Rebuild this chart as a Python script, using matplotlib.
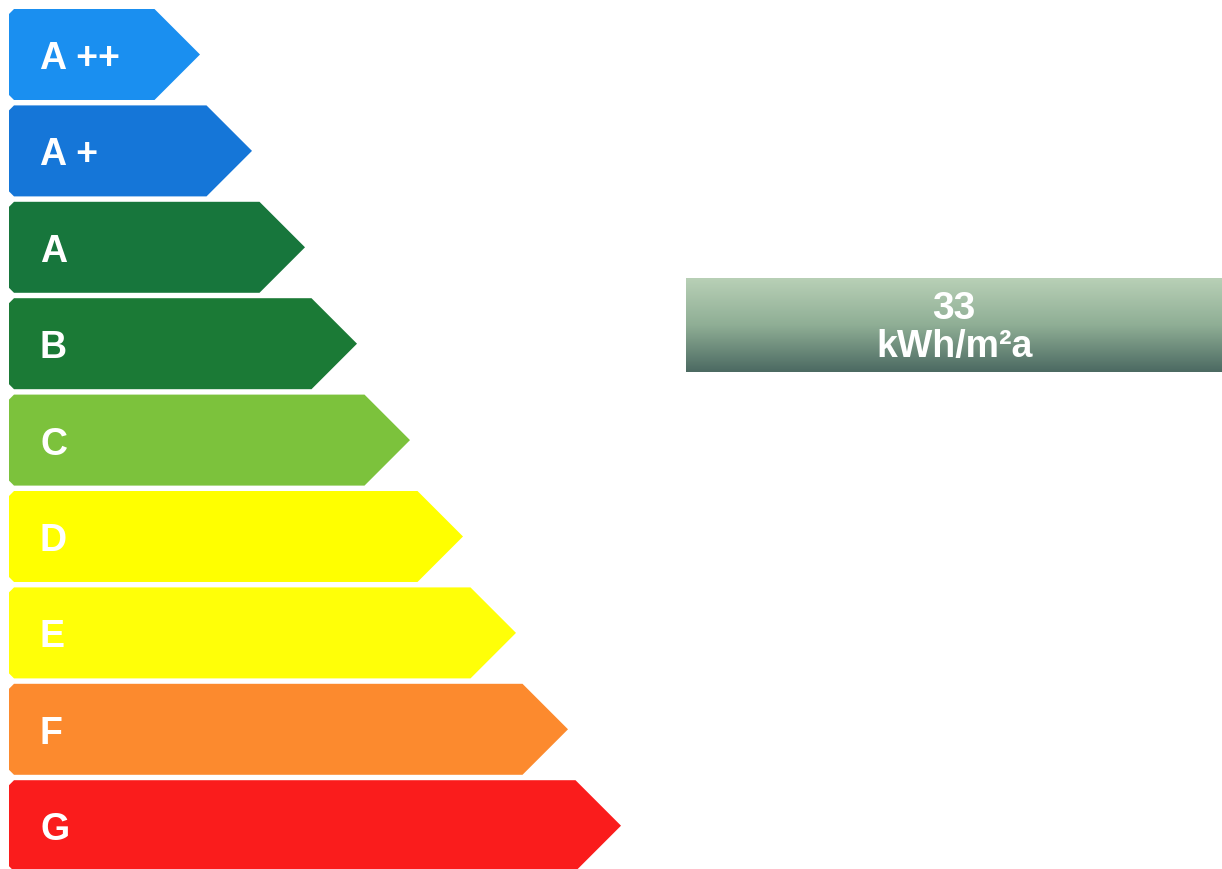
import numpy as np
import matplotlib.pyplot as plt
from matplotlib.patches import Polygon
from matplotlib.colors import LinearSegmentedColormap

plt.rcParams['font.family'] = ['Liberation Sans', 'DejaVu Sans']

# energy classes, from best to worst
classes = ['A ++', 'A +', 'A', 'B', 'C', 'D', 'E', 'F', 'G']
tip_x = [200, 252, 305, 357, 410, 463, 516, 568, 621]
colors = ['#1a8ff0', '#1576d8', '#17763c', '#1b7a36', '#7cc23c',
          '#ffff00', '#ffff08', '#fc8a2e', '#fa1c1c']
value = 33
unit = 'kWh/m²a'

fig = plt.figure(figsize=(12.22, 8.70), dpi=100)
ax = fig.add_axes([0, 0, 1, 1])
ax.set_xlim(0, 1222)
ax.set_ylim(870, 0)
ax.axis('off')

left = 9
height = 91
pitch = 96.4
top0 = 10
r = 5
for i, (lab, tip, col) in enumerate(zip(classes, tip_x, colors)):
    top = top0 + i*pitch
    bot = top + height
    mid = (top + bot)/2
    body = tip - height/2
    pts = [(left + r, top), (body, top), (tip, mid), (body, bot),
           (left + r, bot), (left, bot - r), (left, top + r)]
    ax.add_patch(Polygon(pts, closed=True, facecolor=col, edgecolor='none'))
    ax.text(left + 31, mid + 13.5, lab, color='white', fontsize=27,
            fontweight='bold', va='baseline', ha='left')

# value box with vertical gradient
cmap = LinearSegmentedColormap.from_list('box', ['#b8d0b6', '#8fae95', '#4c6a62'])
grad = np.linspace(0, 1, 100).reshape(-1, 1)
ax.imshow(grad, cmap=cmap, aspect='auto', extent=[686, 1222, 373, 280],
          interpolation='bicubic', zorder=1)
ax.set_xlim(0, 1222)
ax.set_ylim(870, 0)
ax.text(954, 319, str(value), color='white', fontsize=28, fontweight='bold',
        ha='center', va='baseline', zorder=2)
ax.text(955, 357, unit, color='white', fontsize=27, fontweight='bold',
        ha='center', va='baseline', zorder=2)

fig.savefig('out.png', dpi=100)
